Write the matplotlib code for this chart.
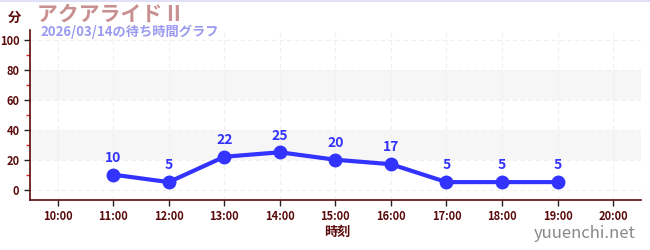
import numpy as np
import matplotlib
matplotlib.use("Agg")
import matplotlib.pyplot as plt
from matplotlib.ticker import MultipleLocator, FixedLocator

plt.rcParams["font.family"] = ["Noto Sans CJK JP", "DejaVu Sans"]

TITLE    = "アクアライド II"
SUBTITLE = "2026/03/14の待ち時間グラフ"
HOURS    = [11, 12, 13, 14, 15, 16, 17, 18, 19]
WAITS    = [10, 5, 22, 25, 20, 17, 5, 5, 5]
X_TICKS  = list(range(10, 21))
X_LABELS = [f"{h}:00" for h in X_TICKS]

LINE_C  = "#3333ff"
AXIS_C  = "#5a0a0a"

fig = plt.figure(figsize=(6.5, 2.5), dpi=100)
ax = fig.add_axes([0.046, 0.2, 0.94, 0.68])

ax.set_xlim(9.5, 20.5)
ax.set_ylim(-7, 107)

# alternating bands
for lo, hi in [(20, 40), (60, 80)]:
    ax.axhspan(lo, hi, color="#f6f6f6", zorder=0, lw=0)

ax.xaxis.set_major_locator(FixedLocator(X_TICKS))
ax.set_xticklabels(X_LABELS)
ax.yaxis.set_major_locator(MultipleLocator(20))
ax.yaxis.set_minor_locator(MultipleLocator(10))
ax.grid(True, which="major", color="#efefef", linestyle=(0, (4, 3)), lw=0.8)

for s in ["top", "right"]:
    ax.spines[s].set_visible(False)
for s in ["left", "bottom"]:
    ax.spines[s].set_color(AXIS_C)
    ax.spines[s].set_linewidth(1.2)

ax.tick_params(axis="both", which="major", colors="#222222", labelcolor=AXIS_C,
               labelsize=8, length=4, width=1)
ax.tick_params(axis="y", which="minor", colors="#dd2222", length=3, width=1)
for lbl in ax.get_xticklabels() + ax.get_yticklabels():
    lbl.set_fontweight("bold")

ax.plot(HOURS, WAITS, color=LINE_C, lw=3, marker="o", ms=9, zorder=3)
for h, w in zip(HOURS, WAITS):
    ax.annotate(str(w), (h, w), xytext=(0, 7), textcoords="offset points",
                ha="center", va="bottom", color=LINE_C, fontsize=10,
                fontweight="bold")

fig.text(337 / 650, 1 - 232 / 250, "時刻", ha="center", va="center",
         color=AXIS_C, fontsize=9.5, fontweight="bold")
fig.text(14 / 650, 1 - 18 / 250, "分", ha="center", va="center",
         color=AXIS_C, fontsize=9.5, fontweight="bold")
fig.text(37 / 650, 1 - 14 / 250, TITLE, ha="left", va="center",
         color="#c89090", fontsize=15, fontweight="bold")
fig.text(40 / 650, 1 - 32 / 250, SUBTITLE, ha="left", va="center",
         color="#9a9af0", fontsize=9.5, fontweight="bold")
fig.text(636 / 650, 1 - 234 / 250, "yuuenchi.net", ha="right", va="center",
         color="#888888", fontsize=12)

fig.add_artist(plt.Line2D([0, 1], [0.998, 0.998], color="#e0e0f8", lw=1.5))

fig.savefig("out.png", dpi=100)
